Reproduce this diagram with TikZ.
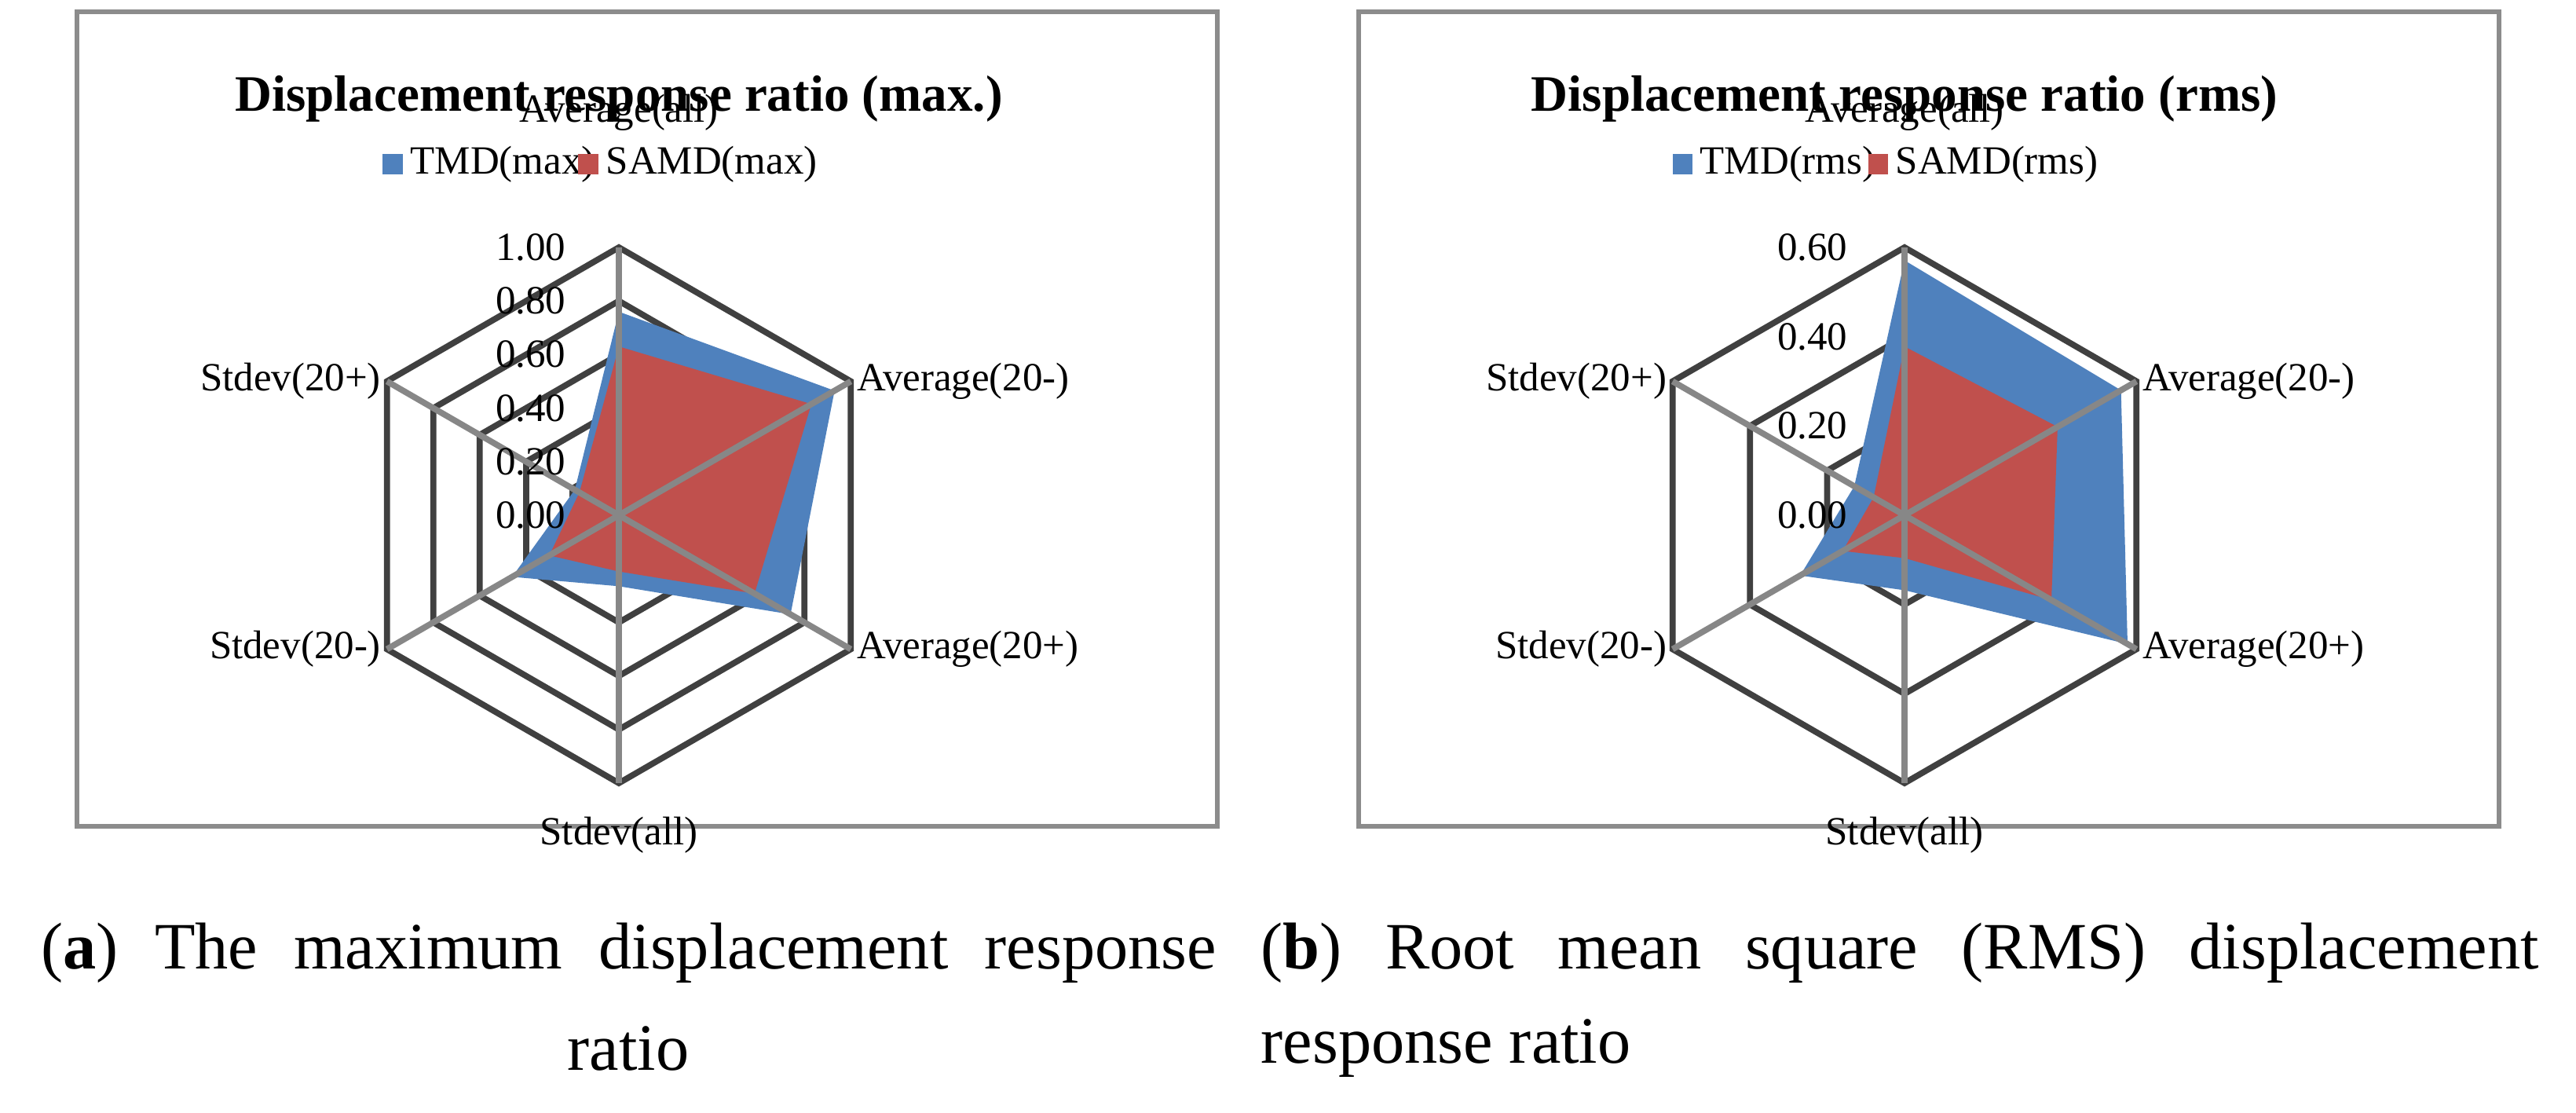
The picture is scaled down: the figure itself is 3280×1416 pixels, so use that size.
\documentclass[tikz,border=0pt]{standalone}
\usepackage{fontspec}
\setmainfont{Liberation Serif}
\begin{document}
\begin{tikzpicture}[x=0.1mm,y=0.1mm,
  ring/.style={draw=black!75,line width=2.2},
  spoke/.style={draw=black!47,line width=2.2},
  frame/.style={draw=black!45,line width=1.6},
  lab/.style={font=\fontsize{14.5}{16}\selectfont,inner sep=2},
  ttl/.style={font=\fontsize{18.5}{21}\selectfont\bfseries},
  captxt/.style={font=\fontsize{24}{28}\selectfont,inner sep=0}]
\definecolor{tmd}{HTML}{4F81BD}\definecolor{samd}{HTML}{C0504D}
\useasboundingbox (0,0) rectangle (3280,1416);
% frames
\draw[frame] (98,364) rectangle (1550,1401);
\draw[frame] (1730,364) rectangle (3182,1401);
% ---------- left chart
\begin{scope}[shift={(788,760)}]
\foreach \r in {68.2,136.4,204.6,272.8,341}
  \draw[ring] (90:\r)--(30:\r)--(-30:\r)--(-90:\r)--(-150:\r)--(150:\r)--cycle;
\fill[tmd] (90:0.76*341)--(30:0.93*341)--(-30:0.74*341)--(-90:0.265*341)--(-150:0.46*341)--(150:0.19*341)--cycle;
\fill[samd] (90:0.63*341)--(30:0.83*341)--(-30:0.585*341)--(-90:0.21*341)--(-150:0.30*341)--(150:0.17*341)--cycle;
\coordinate (lc) at (0,0);
\foreach \a/\n in {90/a1,30/a2,-30/a3,-90/a4,-150/a5,150/a6} \coordinate (L\n) at (\a:341);
\foreach \n in {a1,a2,a3,a4,a5,a6} \draw[spoke] (lc)--(L\n);
\foreach \v/\t [count=\i] in {0/0.00,68.2/0.20,136.4/0.40,204.6/0.60,272.8/0.80,341/1.00}
  \node[lab,anchor=east] (Lt\i) at (-60,\v) {\t};
\end{scope}
\node[lab,anchor=south,yshift=40] (Lx1) at (La1) {Average(all)};
\node[lab,anchor=west] (Lx2) at (La2) {Average(20-)};
\node[lab,anchor=west] (Lx3) at (La3) {Average(20+)};
\node[lab,anchor=north,yshift=-10] (Lx4) at (La4) {Stdev(all)};
\node[lab,anchor=east] (Lx5) at (La5) {Stdev(20-)};
\node[lab,anchor=east] (Lx6) at (La6) {Stdev(20+)};
\node[ttl] (Ltitle) at (788,1290) {Displacement response ratio (max.)};
\fill[tmd] (487,1194) rectangle (513,1220);
\node[lab,anchor=west] (Lleg1) at (515,1207) {TMD(max)};
\fill[samd] (736,1194) rectangle (762,1220);
\node[lab,anchor=west] (Lleg2) at (764,1207) {SAMD(max)};
% ---------- right chart
\begin{scope}[shift={(2425,760)}]
\foreach \r in {113.7,227.3,341}
  \draw[ring] (90:\r)--(30:\r)--(-30:\r)--(-90:\r)--(-150:\r)--(150:\r)--cycle;
\fill[tmd] (90:0.571*568.3)--(30:0.56*568.3)--(-30:0.577*568.3)--(-90:0.168*568.3)--(-150:0.27*568.3)--(150:0.13*568.3)--cycle;
\fill[samd] (90:0.378*568.3)--(30:0.396*568.3)--(-30:0.38*568.3)--(-90:0.096*568.3)--(-150:0.16*568.3)--(150:0.08*568.3)--cycle;
\coordinate (rc) at (0,0);
\foreach \a/\n in {90/a1,30/a2,-30/a3,-90/a4,-150/a5,150/a6} \coordinate (R\n) at (\a:341);
\foreach \n in {a1,a2,a3,a4,a5,a6} \draw[spoke] (rc)--(R\n);
\foreach \v/\t [count=\i] in {0/0.00,113.7/0.20,227.3/0.40,341/0.60}
  \node[lab,anchor=east] (Rt\i) at (-65,\v) {\t};
\end{scope}
\node[lab,anchor=south,yshift=40] (Rx1) at (Ra1) {Average(all)};
\node[lab,anchor=west] (Rx2) at (Ra2) {Average(20-)};
\node[lab,anchor=west] (Rx3) at (Ra3) {Average(20+)};
\node[lab,anchor=north,yshift=-10] (Rx4) at (Ra4) {Stdev(all)};
\node[lab,anchor=east] (Rx5) at (Ra5) {Stdev(20-)};
\node[lab,anchor=east] (Rx6) at (Ra6) {Stdev(20+)};
\node[ttl] (Rtitle) at (2425,1290) {Displacement response ratio (rms)};
\fill[tmd] (2130,1194) rectangle (2155,1220);
\node[lab,anchor=west] (Rleg1) at (2157,1207) {TMD(rms)};
\fill[samd] (2379,1194) rectangle (2404,1220);
\node[lab,anchor=west] (Rleg2) at (2406,1207) {SAMD(rms)};
% ---------- captions
\node[captxt,anchor=west] (capa1) at (52,203) {\makebox[149.6mm][s]{(\textbf{a}) The maximum displacement response}};
\node[captxt] (capa2) at (800,81) {ratio};
\node[captxt,anchor=west] (capb1) at (1605,203) {\makebox[162.7mm][s]{(\textbf{b}) Root mean square (RMS) displacement}};
\node[captxt,anchor=west] (capb2) at (1605,81) {response ratio};
\end{tikzpicture}
\end{document}
